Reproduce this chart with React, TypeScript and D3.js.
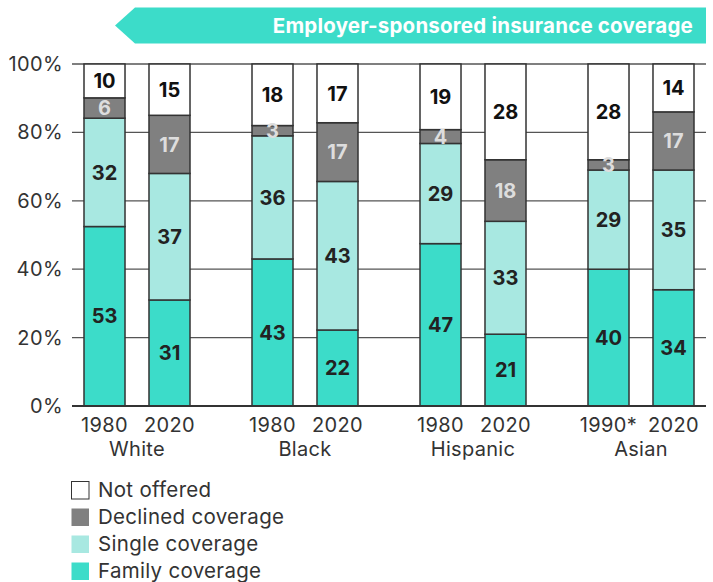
import React from "react";
import * as d3 from "d3";

const groups = ["White", "Black", "Hispanic", "Asian"];
const years = [
  ["1980", "2020"],
  ["1980", "2020"],
  ["1980", "2020"],
  ["1990*", "2020"],
];
const seriesNames = ["Family coverage", "Single coverage", "Declined coverage", "Not offered"];
// order per bar: White 1980, White 2020, Black 1980, Black 2020, Hispanic 1980, Hispanic 2020, Asian 1990*, Asian 2020
const familyValues = [53, 31, 43, 22, 47, 21, 40, 34];
const singleValues = [32, 37, 36, 43, 29, 33, 29, 35];
const declinedValues = [6, 17, 3, 17, 4, 18, 3, 17];
const notOfferedValues = [10, 15, 18, 17, 19, 28, 28, 14];
const yTicks = [0, 20, 40, 60, 80, 100];
const legendOrder = ["Not offered", "Declined coverage", "Single coverage", "Family coverage"];
const title = "Employer-sponsored insurance coverage";

const colors: Record<string, string> = {
  "Family coverage": "#3cdcc9",
  "Single coverage": "#a8e8e1",
  "Declined coverage": "#808080",
  "Not offered": "#ffffff",
};
const labelColors: Record<string, string> = {
  "Family coverage": "#222222",
  "Single coverage": "#222222",
  "Declined coverage": "#dddddd",
  "Not offered": "#111111",
};

const FONT = "Inter, 'Noto Sans', sans-serif";

export default function App() {
  const W = 713;
  const H = 582;
  const gridX0 = 72;
  const gridX1 = 706;

  const y = d3.scaleLinear().domain([0, 100]).range([406, 64]);
  const gx = d3.scaleBand<string>().domain(groups).range([84, 84 + 4 * 168]);
  const inner = d3
    .scaleBand<number>()
    .domain([0, 1])
    .range([0, 106])
    .paddingInner(0.369);

  const seriesValues = [familyValues, singleValues, declinedValues, notOfferedValues];

  const bars: any[] = [];
  groups.forEach((g, gi) => {
    [0, 1].forEach((yi) => {
      const idx = gi * 2 + yi;
      const vals = seriesValues.map((s) => s[idx]);
      const total = d3.sum(vals);
      let cum = 0;
      const segs = vals.map((v, si) => {
        const y0 = (cum / total) * 100;
        cum += v;
        const y1 = (cum / total) * 100;
        return { name: seriesNames[si], v, y0, y1 };
      });
      bars.push({ g, gi, yi, x: (gx(g) as number) + (inner(yi) as number), segs });
    });
  });
  const bw = inner.bandwidth();

  return (
    <svg
      width={W}
      height={H}
      style={{ position: "absolute", left: 0, top: 0, background: "#fff" }}
      fontFamily={FONT}
    >
      {/* Title banner */}
      <path d="M115,25.5 L135,7.5 L706,7.5 L706,43.5 L135,43.5 Z" fill="#3cdcc9" />
      <text
        x={693}
        y={25.5}
        dy="0.35em"
        textAnchor="end"
        fill="#ffffff"
        fontWeight={700}
        fontSize={20.5}
        letterSpacing={0.2}
      >
        {title}
      </text>

      {/* Gridlines */}
      {yTicks.map((t) => (
        <line
          key={t}
          x1={gridX0}
          x2={gridX1}
          y1={y(t)}
          y2={y(t)}
          stroke={t === 0 ? "#333" : "#555"}
          strokeWidth={t === 0 ? 2 : 1.3}
        />
      ))}
      {yTicks.map((t) => (
        <text
          key={"l" + t}
          x={63}
          y={y(t)}
          dy="0.35em"
          textAnchor="end"
          fontSize={20}
          letterSpacing={0.4}
          fill="#333"
        >
          {t}%
        </text>
      ))}

      {/* Bars */}
      {bars.map((b, i) => (
        <g key={i}>
          {b.segs.map((s: any) => (
            <rect
              key={s.name}
              x={b.x}
              width={bw}
              y={y(s.y1)}
              height={y(s.y0) - y(s.y1)}
              fill={colors[s.name]}
              stroke="#333"
              strokeWidth={1.5}
            />
          ))}
        </g>
      ))}
      <line x1={gridX0} x2={gridX1} y1={y(0)} y2={y(0)} stroke="#333" strokeWidth={2} />
      {bars.map((b, i) => (
        <g key={"t" + i}>
          {b.segs.map((s: any) => (
            <text
              key={s.name}
              x={b.x + bw / 2}
              y={(y(s.y0) + y(s.y1)) / 2}
              dy="0.36em"
              textAnchor="middle"
              fontWeight={700}
              fontSize={20}
              fill={labelColors[s.name]}
            >
              {s.v}
            </text>
          ))}
          <text
            x={b.x + bw / 2}
            y={432}
            textAnchor="middle"
            fontSize={20}
            letterSpacing={0.4}
            fill="#333"
          >
            {years[b.gi][b.yi]}
          </text>
        </g>
      ))}
      {groups.map((g) => (
        <text
          key={g}
          x={(gx(g) as number) + ((inner(0) as number) + (inner(1) as number) + bw) / 2}
          y={456}
          textAnchor="middle"
          fontSize={20}
          letterSpacing={0.3}
          fill="#333"
        >
          {g}
        </text>
      ))}

      {/* Legend */}
      {legendOrder.map((name, i) => (
        <g key={name} transform={`translate(71, ${481 + i * 27})`}>
          <rect
            x={0.5}
            y={0.5}
            width={17.5}
            height={17.5}
            fill={colors[name]}
            stroke={name === "Not offered" ? "#333" : "none"}
            strokeWidth={1}
          />
          <text x={27} y={9} dy="0.36em" fontSize={20.5} letterSpacing={0.3} fill="#333">
            {name}
          </text>
        </g>
      ))}
    </svg>
  );
}
